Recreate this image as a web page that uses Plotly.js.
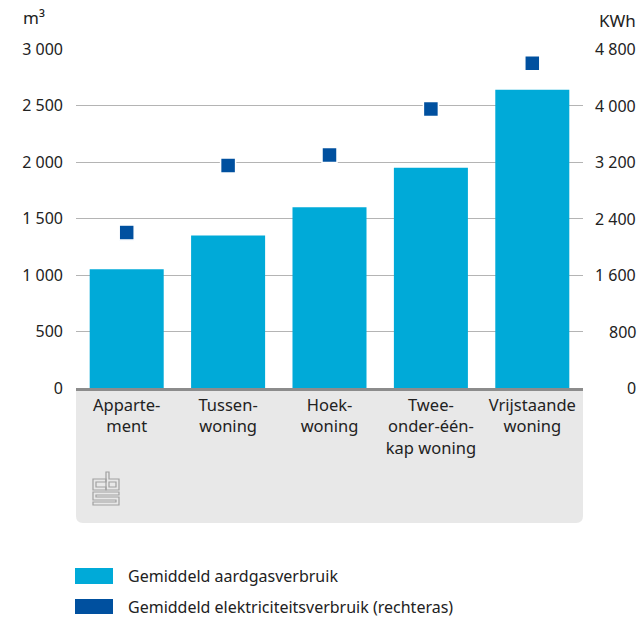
<!DOCTYPE html>
<html>
<head>
<meta charset="utf-8">
<script src="https://cdn.plot.ly/plotly-3.0.1.min.js"></script>
<style>
  html, body { margin: 0; padding: 0; background: #fff; }
  #myPlot { width: 640px; height: 617px; }
</style>
</head>
<body>
<div id="myPlot"></div>
<script>
// Woningtypes en verbruik
const categories = ['Apparte-<br>ment', 'Tussen-<br>woning', 'Hoek-<br>woning', 'Twee-<br>onder-één-<br>kap woning', 'Vrijstaande<br>woning'];
const gas_m3 = [1050, 1350, 1600, 1950, 2640];
const electricity_kwh = [2200, 3150, 3300, 3950, 4600];

// Ticks
const gas_ticks = [0, 500, 1000, 1500, 2000, 2500, 3000];
const gas_tick_text = ['0', '500', '1 000', '1 500', '2 000', '2 500', '3 000'];
const elec_ticks = [0, 800, 1600, 2400, 3200, 4000, 4800];
const elec_tick_text = ['0', '800', '1 600', '2 400', '3 200', '4 000', '4 800'];

const legend_names = ['Gemiddeld aardgasverbruik', 'Gemiddeld elektriciteitsverbruik (rechteras)'];
const colors = ['#00aad8', '#00509f'];

// pixel -> paper coordinates (plot area 76..583 x 49..388)
const L = 76, R = 583, T = 49, B = 388;
function px(x) { return (x - L) / (R - L); }
function py(y) { return (B - y) / (B - T); }

function update_plot() {
  var gas = {
    x: categories,
    y: gas_m3,
    name: legend_names[0],
    type: 'bar',
    marker: {color: colors[0]},
    hoverinfo: 'none'
  };

  var elec = {
    x: categories,
    y: electricity_kwh,
    name: legend_names[1],
    yaxis: 'y2',
    mode: 'markers',
    type: 'scatter',
    marker: {symbol: 'square', size: 15, color: colors[1], line: {color: '#ffffff', width: 1.5}},
    hoverinfo: 'none'
  };

  var data = [gas, elec];

  // grey label box below the axis
  var r = 7, bx = 523;
  var boxPath = 'M' + px(L) + ',' + py(B) +
    ' L' + px(R) + ',' + py(B) +
    ' L' + px(R) + ',' + py(bx - r) +
    ' Q' + px(R) + ',' + py(bx) + ' ' + px(R - r) + ',' + py(bx) +
    ' L' + px(L + r) + ',' + py(bx) +
    ' Q' + px(L) + ',' + py(bx) + ' ' + px(L) + ',' + py(bx - r) + ' Z';

  function path(pts) {
    // pts: list of [x,y] pixel points, closed
    return 'M' + pts.map(function(p) { return px(p[0]) + ',' + py(p[1]); }).join(' L') + ' Z';
  }

  var logoLine = {color: '#a0a0a0', width: 1.2};
  var shapes = [
    {type: 'path', xref: 'paper', yref: 'paper', path: boxPath, fillcolor: '#e8e8e8', line: {width: 0}, layer: 'below'},
    // cbs logo
    {type: 'path', xref: 'paper', yref: 'paper', line: logoLine,
      path: path([[106,479],[93,479],[93,490],[106,490],[106,487],[96,487],[96,482],[106,482]])},
    {type: 'path', xref: 'paper', yref: 'paper', line: logoLine,
      path: path([[106,472],[109,472],[109,479],[119,479],[119,490],[106,490]])},
    {type: 'path', xref: 'paper', yref: 'paper', line: logoLine,
      path: path([[109,482],[116,482],[116,487],[109,487]])},
    {type: 'path', xref: 'paper', yref: 'paper', line: logoLine,
      path: path([[93,492],[119,492],[119,495],[96,495],[96,497],[119,497],[119,505],[93,505],[93,502],[116,502],[116,500],[93,500]])},
    // legend swatches
    {type: 'rect', xref: 'paper', yref: 'paper', x0: px(75), x1: px(113), y0: py(584), y1: py(568), fillcolor: colors[0], line: {width: 0}},
    {type: 'rect', xref: 'paper', yref: 'paper', x0: px(75), x1: px(113), y0: py(614), y1: py(599), fillcolor: colors[1], line: {width: 0}}
  ];

  var annotations = [
    {text: 'm³', xref: 'paper', yref: 'paper', x: px(21), y: py(18), xanchor: 'left', yanchor: 'middle', showarrow: false, font: {size: 17}},
    {text: 'KWh', xref: 'paper', yref: 'paper', x: px(638), y: py(20), xanchor: 'right', yanchor: 'middle', showarrow: false, font: {size: 17}},
    {text: legend_names[0], xref: 'paper', yref: 'paper', x: px(126), y: py(576), xanchor: 'left', yanchor: 'middle', showarrow: false, font: {size: 16}},
    {text: legend_names[1], xref: 'paper', yref: 'paper', x: px(126), y: py(607), xanchor: 'left', yanchor: 'middle', showarrow: false, font: {size: 16}}
  ];
  // right axis labels, right aligned
  for (var i = 0; i < elec_ticks.length; i++) {
    annotations.push({text: elec_tick_text[i], xref: 'paper', yref: 'y2', x: px(638), y: elec_ticks[i],
      xanchor: 'right', yanchor: 'middle', showarrow: false, font: {size: 16}});
  }

  var layout = {
    width: 640,
    height: 617,
    margin: {l: L, r: 640 - R, t: T, b: 617 - B, pad: 0},
    font: {family: '"Noto Sans", sans-serif', size: 16, color: '#222222'},
    paper_bgcolor: '#ffffff',
    plot_bgcolor: 'rgba(0,0,0,0)',
    showlegend: false,
    bargap: 0.27,
    xaxis: {
      type: 'category',
      showline: true,
      linecolor: '#8c8c8c',
      linewidth: 3,
      ticks: '',
      showgrid: false,
      tickfont: {size: 16.5},
      fixedrange: true
    },
    yaxis: {
      range: [0, 3000],
      tickvals: gas_ticks,
      ticktext: gas_tick_text,
      showgrid: true,
      gridcolor: '#b4b4b4',
      gridwidth: 1,
      zeroline: false,
      ticks: '',
      ticklabelstandoff: 12,
      tickfont: {size: 16}
    },
    yaxis2: {
      range: [0, 4800],
      overlaying: 'y',
      side: 'right',
      tickvals: elec_ticks,
      showticklabels: false,
      showgrid: false,
      zeroline: false,
      ticks: ''
    },
    shapes: shapes,
    annotations: annotations
  };

  const myPlot = document.getElementById('myPlot');
  Plotly.newPlot(myPlot, data, layout, {staticPlot: true});
}

update_plot();
</script>
</body>
</html>
